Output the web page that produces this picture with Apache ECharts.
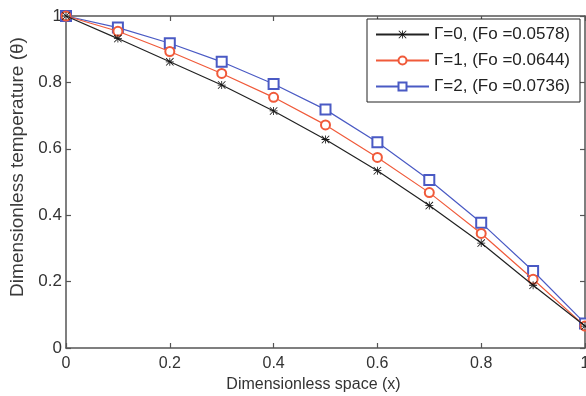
<!DOCTYPE html>
<html>
<head>
<meta charset="utf-8">
<script src="https://cdn.jsdelivr.net/npm/echarts@6/dist/echarts.min.js"></script>
<style>
  html, body { margin: 0; padding: 0; background: #fff; }
  #chart { width: 586px; height: 396px; }
</style>
</head>
<body>
<div id="chart"></div>
<script>
// x positions and theta values
var xs = [0, 0.1, 0.2, 0.3, 0.4, 0.5, 0.6, 0.7, 0.8, 0.9, 1];
var gamma0 = [1, 0.932, 0.862, 0.792, 0.714, 0.628, 0.534, 0.429, 0.316, 0.189, 0.066];
var gamma1 = [1, 0.954, 0.893, 0.827, 0.755, 0.672, 0.574, 0.468, 0.345, 0.207, 0.066];
var gamma2 = [1, 0.965, 0.918, 0.862, 0.795, 0.718, 0.620, 0.506, 0.377, 0.232, 0.074];
var names = ['\u0393=0, (Fo =0.0578)', '\u0393=1, (Fo =0.0644)', '\u0393=2, (Fo =0.0736)'];

function pairs(ys) {
    return xs.map(function (x, i) { return [x, ys[i]]; });
}

var star = 'path://M4.5 0h1v10h-1z M0 4.5h10v1h-10z M0 0.7L0.7 0L10 9.3L9.3 10Z M10 0.7L9.3 0L0 9.3L0.7 10Z';
var axisColor = '#555';
var textColor = '#333';
var font = 'Liberation Sans, Arial, sans-serif';

var dom = document.getElementById('chart');
var myChart = echarts.init(dom, null, {renderer: 'canvas'});

function axisBase(pos, showLabel, size) {
    return {
        type: 'value',
        position: pos,
        min: 0,
        max: 1,
        interval: 0.2,
        axisLine: {show: true, onZero: false, lineStyle: {color: axisColor, width: 1.5}},
        axisTick: {show: true, inside: true, length: 5, lineStyle: {color: axisColor, width: 1.2}},
        axisLabel: {show: showLabel, color: textColor, fontSize: size || 14, fontFamily: font,
            formatter: function (v) { return String(+v.toFixed(1)); }},
        splitLine: {show: false}
    };
}

var xMain = axisBase('bottom', true, 16);
xMain.name = 'Dimensionless space (x)';
xMain.nameLocation = 'middle';
xMain.nameGap = 26;
xMain.nameTextStyle = {color: textColor, fontSize: 16, fontFamily: font, padding: [0, 24, 0, 0]};
xMain.axisLabel.margin = 8;
xMain.axisLabel.showMaxLabel = true;

var yMain = axisBase('left', true, 17);
yMain.name = 'Dimensionless temperature (\u03b8)';
yMain.nameLocation = 'middle';
yMain.nameGap = 37;
yMain.nameTextStyle = {color: '#3a3a3a', fontSize: 19, fontFamily: font, padding: [0, 0, 0, 30]};
yMain.axisLabel.margin = 4;

var option = {
    animation: false,
    backgroundColor: '#fff',
    grid: {left: 66, right: 1, top: 16, bottom: 48, outerBoundsMode: 'none'},
    legend: {
        orient: 'vertical',
        left: 367,
        top: 19,
        width: 216,
        padding: [7, 10, 7, 8],
        itemGap: 9,
        itemWidth: 53,
        itemHeight: 10,
        borderColor: '#222',
        borderWidth: 1,
        backgroundColor: '#fff',
        textStyle: {color: '#222', fontSize: 17, fontFamily: font},
        data: names
    },
    xAxis: [xMain, axisBase('top', false)],
    yAxis: [yMain, axisBase('right', false)],
    series: [
        {
            name: names[0],
            type: 'line',
            data: pairs(gamma0),
            symbol: star,
            symbolSize: 8,
            itemStyle: {color: '#111'},
            lineStyle: {color: '#222', width: 1.2},
            z: 4
        },
        {
            name: names[1],
            type: 'line',
            data: pairs(gamma1),
            symbol: 'emptyCircle',
            symbolSize: 9,
            itemStyle: {color: '#f05a3a', borderWidth: 1.2},
            lineStyle: {color: '#f05a3a', width: 1.2},
            z: 3
        },
        {
            name: names[2],
            type: 'line',
            data: pairs(gamma2),
            symbol: 'emptyRect',
            symbolSize: 10,
            itemStyle: {color: '#4a5ac4', borderWidth: 1.2},
            lineStyle: {color: '#4a5ac4', width: 1.2},
            z: 2
        }
    ]
};
if (option && typeof option === "object") {
    myChart.setOption(option, true);
}
window.addEventListener('resize', function () {
    myChart.resize();
});
</script>
</body>
</html>
